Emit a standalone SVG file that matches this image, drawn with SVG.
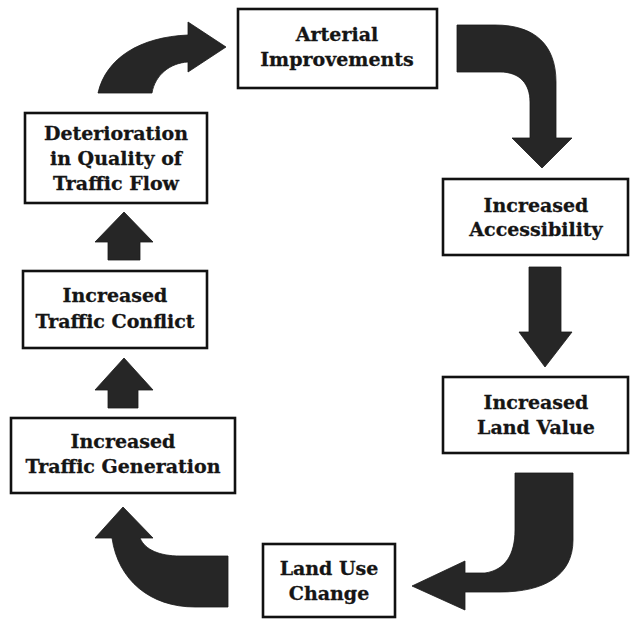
<svg xmlns="http://www.w3.org/2000/svg" width="631" height="620" viewBox="0 0 631 620">
<style>
.box{fill:#fff;stroke:#111;stroke-width:2.6}
.t{font-family:"DejaVu Serif","Liberation Serif",serif;font-weight:bold;font-size:19px;fill:#151515;stroke:#151515;stroke-width:0.3;text-anchor:middle}
.arr{fill:#262626;stroke:#1a1a1a;stroke-width:0.8}
</style>
<rect width="631" height="620" fill="#fff"/>
<g id="connectors">
<path class="arr" d="M98,93 C106,58 140,37 188,35 L188,22 L226,47 L188,72 L188,62 C170,63 155,75 152,93 Z"/>
<path class="arr" d="M457,25 L495,25 C535,25 556,45 556,82 L556,138 L572,138 L542,168 L512,138 L530,138 L530,102 C530,84 520,72 500,72 L457,72 Z"/>
<path class="arr" d="M529,267 L561,267 L561,332 L572,332 L545,367 L519,332 L529,332 Z"/>
<path class="arr" d="M515,473 L573,473 L573,540 C573,575 545,592 500,592 L465,592 L465,610 L412,586 L465,561 L465,573 L485,573 C505,570 515,555 515,530 Z"/>
<path class="arr" d="M228,556 L228,607 L195,607 C150,607 118,580 112,538 L95,538 L123,507 L153,538 L140,538 C145,550 160,556 180,556 Z"/>
<path class="arr" d="M108,408 L138,408 L138,390 L153,390 L124,358 L95,390 L108,390 Z"/>
<path class="arr" d="M108,260 L140,260 L140,242 L153,242 L124,212 L95,242 L108,242 Z"/>
</g>
<g id="arterial">
<rect class="box" x="238" y="9" width="199" height="79"/>
<text class="t" x="337" y="41">Arterial</text>
<text class="t" x="337" y="66">Improvements</text>
</g>
<g id="accessibility">
<rect class="box" x="443" y="179" width="185" height="76"/>
<text class="t" x="536" y="212">Increased</text>
<text class="t" x="536" y="236">Accessibility</text>
</g>
<g id="landvalue">
<rect class="box" x="443" y="377" width="185" height="76"/>
<text class="t" x="536" y="409">Increased</text>
<text class="t" x="536" y="434">Land Value</text>
</g>
<g id="landuse">
<rect class="box" x="263" y="544" width="132" height="73"/>
<text class="t" x="329" y="575">Land Use</text>
<text class="t" x="329" y="600">Change</text>
</g>
<g id="generation">
<rect class="box" x="11" y="418" width="224" height="75"/>
<text class="t" x="123" y="448">Increased</text>
<text class="t" x="123" y="473">Traffic Generation</text>
</g>
<g id="conflict">
<rect class="box" x="23" y="271" width="184" height="77"/>
<text class="t" x="115" y="302">Increased</text>
<text class="t" x="115" y="328">Traffic Conflict</text>
</g>
<g id="deterioration">
<rect class="box" x="25" y="113" width="182" height="90"/>
<text class="t" x="116" y="140">Deterioration</text>
<text class="t" x="116" y="165">in Quality of</text>
<text class="t" x="116" y="190">Traffic Flow</text>
</g>
</svg>
